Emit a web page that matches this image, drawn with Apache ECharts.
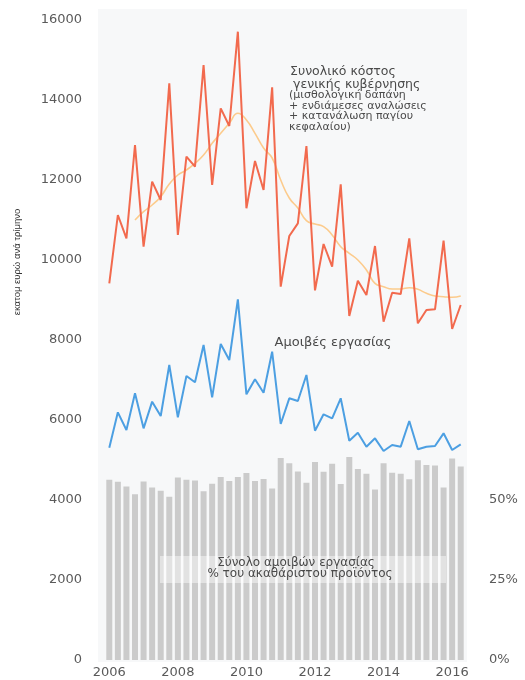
<!DOCTYPE html>
<html>
<head>
<meta charset="utf-8">
<script src="https://cdn.jsdelivr.net/npm/echarts@6/dist/echarts.min.js"></script>
<style>
  html, body { margin: 0; padding: 0; background: #fff; }
  #chart { width: 525px; height: 680px; }
</style>
</head>
<body>
<div id="chart"></div>
<script>
// quarters 2006 Q1 .. 2016 Q2
const quarters = []
for (let y = 2006; y <= 2016; y++) {
    for (let q = 1; q <= 4; q++) {
        if (y === 2016 && q > 2) break
        quarters.push(y + ' Q' + q)
    }
}

// Συνολικό κόστος γενικής κυβέρνησης (εκατ. ευρώ)
const totalCost = [
    9417, 11125, 10542, 12875, 10333, 11958, 11500, 14417, 10625, 12583,
    12333, 14875, 11875, 13792, 13350, 15708, 11292, 12475, 11750, 14317,
    9333, 10600, 10917, 12850, 9240, 10400, 9833, 11892, 8600, 9483,
    9125, 10350, 8458, 9183, 9150, 10542, 8417, 8750, 8767, 10483,
    8275, 8875
]

// τάση (κινητός μέσος)
const totalTrend = [
    null, null, null, 11000, 11208, 11375, 11583, 11900, 12125, 12250,
    12417, 12625, 12917, 13167, 13417, 13667, 13500, 13167, 12800, 12550,
    12000, 11550, 11300, 10983, 10900, 10833, 10625, 10333, 10167, 10000,
    9750, 9417, 9333, 9275, 9275, 9308, 9267, 9167, 9100, 9083,
    9067, 9100
]

// Αμοιβές εργασίας (εκατ. ευρώ)
const wages = [
    5308, 6192, 5750, 6667, 5792, 6458, 6100, 7375, 6067, 7100,
    6942, 7875, 6567, 7900, 7500, 9017, 6642, 7017, 6683, 7708,
    5900, 6542, 6475, 7125, 5733, 6142, 6042, 6542, 5483, 5683,
    5333, 5542, 5225, 5375, 5333, 5975, 5267, 5333, 5350, 5667,
    5250, 5392
]

// Σύνολο αμοιβών εργασίας % ΑΕΠ
const wagesPct = [
    56.3, 55.7, 54.2, 51.8, 55.8, 53.9, 52.9, 51.0, 57.0, 56.3,
    56.1, 52.7, 55.1, 57.2, 55.9, 57.2, 58.4, 55.9, 56.6, 53.6,
    63.1, 61.5, 58.9, 55.4, 61.9, 58.8, 61.3, 55.0, 63.4, 59.7,
    58.2, 53.3, 61.5, 58.5, 58.2, 56.5, 62.4, 60.9, 60.8, 53.9,
    63.0, 60.5
]

// right axis shows only these ticks
const pctTicks = [0, 25, 50]

const font = 'DejaVu Sans'
const chart = echarts.init(document.getElementById('chart'))

// one line of annotation text
function note(text, x, y, size, align) {
    return {
        type: 'text',
        z: 20,
        x: x,
        y: y,
        style: {
            text: text,
            font: size + 'px "DejaVu Sans"',
            fill: '#4a4a4a',
            align: align || 'left',
            verticalAlign: 'middle'
        }
    }
}

const option = {
    animation: false,
    backgroundColor: '#fff',
    textStyle: { fontFamily: font },
    grid: {
        left: 105,
        right: 60,
        top: 20,
        bottom: 20
    },
    graphic: [{
        type: 'rect',
        z: -10,
        shape: { x: 98, y: 9, width: 369, height: 653 },
        style: { fill: '#f7f8f9' }
    }, {
        type: 'text',
        x: 17,
        y: 262,
        rotation: Math.PI / 2,
        style: {
            text: 'εκατομ ευρώ ανά τρίμηνο',
            font: '9.5px "Liberation Sans Narrow", "Liberation Sans", sans-serif',
            fill: '#333',
            align: 'center',
            verticalAlign: 'middle'
        }
    },
    note('Συνολικό κόστος', 290, 72, 12.5),
    note('γενικής κυβέρνησης', 293, 84.5, 12.5),
    note('(μισθολογική δαπάνη', 289, 95.5, 11),
    note('+ ενδιάμεσες αναλώσεις', 289, 106, 11),
    note('+ κατανάλωση παγίου', 289, 116.5, 11),
    note('κεφαλαίου)', 289, 127, 11),
    note('Αμοιβές εργασίας', 333, 343, 13, 'center'),
    {
        type: 'rect',
        z: 10,
        shape: { x: 160, y: 556, width: 286, height: 27 },
        style: { fill: 'rgba(255,255,255,0.45)' }
    },
    note('Σύνολο αμοιβών εργασίας', 296, 563, 12, 'center'),
    note('% του ακαθάριστου προϊόντος', 300, 574, 12, 'center')
    ],
    xAxis: {
        type: 'category',
        data: quarters,
        boundaryGap: true,
        axisLine: { show: false },
        axisTick: { show: false },
        axisLabel: {
            interval: 7,
            formatter: v => v.slice(0, 4),
            color: '#5a5a5a',
            fontSize: 13,
            margin: 6
        },
        splitLine: { show: false }
    },
    yAxis: [{
        type: 'value',
        min: 0,
        max: 16000,
        interval: 2000,
        axisLine: { show: false },
        axisTick: { show: false },
        splitLine: { show: false },
        axisLabel: {
            color: '#5a5a5a',
            fontSize: 13,
            margin: 23,
            formatter: v => String(v)
        }
    }, {
        type: 'value',
        min: 0,
        max: 200,
        interval: 25,
        axisLine: { show: false },
        axisTick: { show: false },
        splitLine: { show: false },
        axisLabel: {
            color: '#5a5a5a',
            fontSize: 13,
            margin: 24,
            formatter: v => (pctTicks.indexOf(v) >= 0 ? v + '%' : '')
        }
    }],
    series: [{
        type: 'bar',
        name: 'Σύνολο αμοιβών εργασίας % ΑΕΠ',
        yAxisIndex: 1,
        data: wagesPct,
        barWidth: 6,
        itemStyle: { color: '#cbcbcb' },
        z: 1
    }, {
        type: 'line',
        name: 'Τάση',
        data: totalTrend,
        smooth: true,
        symbol: 'none',
        lineStyle: { color: '#fccb8c', width: 1.6 },
        z: 3
    }, {
        type: 'line',
        name: 'Συνολικό κόστος',
        data: totalCost,
        symbol: 'none',
        lineStyle: { color: '#f26a4e', width: 2 },
        z: 4
    }, {
        type: 'line',
        name: 'Αμοιβές εργασίας',
        data: wages,
        symbol: 'none',
        lineStyle: { color: '#4c9fe2', width: 2 },
        z: 4
    }]
}

chart.setOption(option)
</script>
</body>
</html>
